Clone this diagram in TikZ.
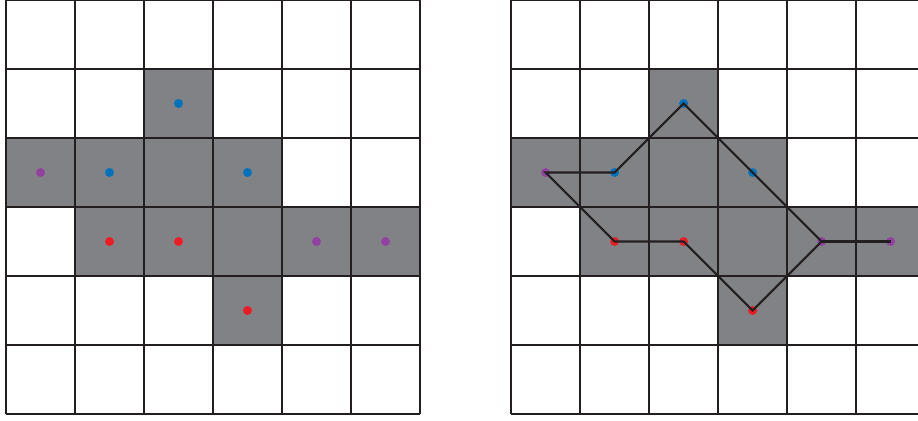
\documentclass[tikz,border=0pt]{standalone}
\usepackage{xcolor}
\definecolor{cellgray}{RGB}{128,130,133}
\definecolor{gridblack}{RGB}{35,31,32}
\definecolor{dotblue}{RGB}{0,114,188}
\definecolor{dotred}{RGB}{237,28,36}
\definecolor{dotpurple}{RGB}{146,65,160}
\usetikzlibrary{positioning}
\tikzset{
  cell/.style={fill=cellgray},
  gridline/.style={draw=gridblack,line width=1pt},
  dot/.style={circle,fill=#1,inner sep=0pt,minimum size=0.13cm},
  link/.style={draw=gridblack,line width=0.9pt}
}
\begin{document}
\begin{tikzpicture}
  \clip (-0.087,-0.101) rectangle (13.217,6.0);

  % Left grid: shaded cells
  \fill[cell] (2,4) rectangle (3,5);
  \fill[cell] (0,3) rectangle (4,4);
  \fill[cell] (1,2) rectangle (6,3);
  \fill[cell] (3,1) rectangle (4,2);
  \draw[gridline] (0,0) grid (6,6);

  % Left grid: dots
  \node[dot=dotblue]   (lb1) at (2.5,4.5) {};
  \node[dot=dotpurple] (lp1) at (0.5,3.5) {};
  \node[dot=dotblue]   (lb2) at (1.5,3.5) {};
  \node[dot=dotblue]   (lb3) at (3.5,3.5) {};
  \node[dot=dotred]    (lr1) at (1.5,2.5) {};
  \node[dot=dotred]    (lr2) at (2.5,2.5) {};
  \node[dot=dotpurple] (lp2) at (4.5,2.5) {};
  \node[dot=dotpurple] (lp3) at (5.5,2.5) {};
  \node[dot=dotred]    (lr3) at (3.5,1.5) {};

  % Right grid
  \begin{scope}[xshift=7.32cm]
    \fill[cell] (2,4) rectangle (3,5);
    \fill[cell] (0,3) rectangle (4,4);
    \fill[cell] (1,2) rectangle (6,3);
    \fill[cell] (3,1) rectangle (4,2);
    \draw[gridline] (0,0) grid (6,6);

    % Right grid: dots
    \node[dot=dotblue]   (rb1) at (2.5,4.5) {};
    \node[dot=dotpurple] (rp1) at (0.5,3.5) {};
    \node[dot=dotblue]   (rb2) at (1.5,3.5) {};
    \node[dot=dotblue]   (rb3) at (3.5,3.5) {};
    \node[dot=dotred]    (rr1) at (1.5,2.5) {};
    \node[dot=dotred]    (rr2) at (2.5,2.5) {};
    \node[dot=dotpurple] (rp2) at (4.5,2.5) {};
    \node[dot=dotpurple] (rp3) at (5.5,2.5) {};
    \node[dot=dotred]    (rr3) at (3.5,1.5) {};
  \end{scope}

  % Connections in the right grid
  \draw[link] (rp1.center) -- (rb2.center) -- (rb1.center) -- (rb3.center)
        -- (rp2.center) -- (rr3.center) -- (rr2.center) -- (rr1.center)
        -- cycle;
  \draw[link] (rp2.center) -- (rp3.center);
\end{tikzpicture}
\end{document}
